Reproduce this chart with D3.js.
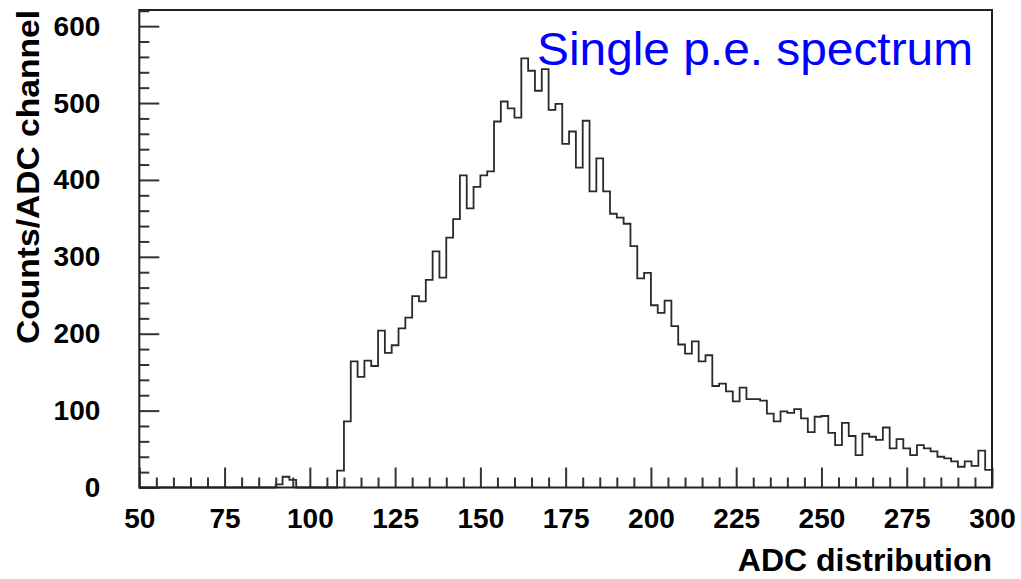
<!DOCTYPE html>
<html>
<head>
<meta charset="utf-8">
<script src="https://cdn.jsdelivr.net/npm/d3@7"></script>
<style>
  html, body { margin: 0; padding: 0; background: #fff; }
  svg { display: block; }
  .tick text { font-family: "Liberation Sans", Arial, Helvetica, sans-serif; font-weight: bold; }
</style>
</head>
<body>
<svg id="chart" width="1021" height="579"></svg>
<script>
// Single photo-electron spectrum: counts per 2-channel ADC bin, from 50 to 300
const binLow = 50, binHigh = 300, binWidth = 2;
const counts = [
  0, 0, 0, 0, 0, 0, 0, 0, 0, 0,          // 50 - 68
  0, 0, 0, 0, 0, 0, 0, 0, 0, 0,          // 70 - 88
  4, 14, 10, 0, 0, 0, 0, 0, 0,           // 90 - 106
  22, 86, 164, 144, 165, 158, 204, 175, 185, 207,   // 108 - 126
  221, 249, 242, 270, 307, 273, 325, 349, 406, 363, // 128 - 146
  391, 406, 411, 476, 502, 493, 481, 558, 542, 516, // 148 - 166
  544, 491, 499, 447, 463, 416, 477, 385, 428, 385, // 168 - 186
  356, 351, 343, 314, 272, 279, 237, 227, 243, 210, // 188 - 206
  186, 174, 190, 164, 172, 132, 135, 125, 112, 130, // 208 - 226
  115, 115, 113, 96, 86, 99, 97, 102, 90, 72,       // 228 - 246
  92, 93, 71, 55, 84, 67, 42, 70, 66, 62,           // 248 - 266
  78, 51, 63, 51, 42, 55, 51, 47, 40, 38,           // 268 - 286
  34, 27, 34, 28, 48, 23                            // 288 - 298
];
const xMajorTicks = [50, 75, 100, 125, 150, 175, 200, 225, 250, 275, 300];
const yMajorTicks = [0, 100, 200, 300, 400, 500, 600];
const xTitle = "ADC distribution";
const yTitle = "Counts/ADC channel";
const plotLabel = "Single p.e. spectrum";

const font = '"Liberation Sans", Arial, Helvetica, sans-serif';
const svg = d3.select("#chart");
const frame = { left: 139.3, right: 992, top: 10, bottom: 487.5 };
const yMax = 621;

const x = d3.scaleLinear().domain([binLow, binHigh]).range([frame.left, frame.right]);
const y = d3.scaleLinear().domain([0, yMax]).range([frame.bottom, frame.top]);

const xMinorTicks = d3.range(binLow, binHigh + 1, 5).filter(v => !xMajorTicks.includes(v));
const yMinorTicks = d3.range(0, yMax, 20).filter(v => !yMajorTicks.includes(v));

svg.append("rect").attr("width", 1021).attr("height", 579).attr("fill", "#fff");

// Histogram outline as a step line
const bins = counts.map((c, i) => ({ x0: binLow + i * binWidth, x1: binLow + (i + 1) * binWidth, c }));
const pts = [];
bins.forEach(b => { pts.push([b.x0, b.c]); pts.push([b.x1, b.c]); });
const line = d3.line().x(d => x(d[0])).y(d => y(d[1]));
svg.append("path")
  .attr("d", line(pts))
  .attr("fill", "none")
  .attr("stroke", "#2a2a2a")
  .attr("stroke-width", 1.8)
  .attr("stroke-linejoin", "miter");

// Axes: ticks point into the frame
function styleAxis(g) {
  g.select(".domain").remove();
  g.selectAll(".tick line").attr("stroke", "#333").attr("stroke-width", 2);
}

svg.append("g")
  .attr("transform", `translate(0,${frame.bottom})`)
  .call(d3.axisBottom(x).tickValues(xMinorTicks).tickSize(-10).tickFormat(""))
  .call(styleAxis);

svg.append("g")
  .attr("transform", `translate(0,${frame.bottom})`)
  .call(d3.axisBottom(x).tickValues(xMajorTicks).tickSize(-20).tickPadding(21).tickFormat(d3.format("d")))
  .call(styleAxis)
  .call(g => g.selectAll("text").attr("font-size", 28).attr("fill", "#000"));

svg.append("g")
  .attr("transform", `translate(${frame.left},0)`)
  .call(d3.axisLeft(y).tickValues(yMinorTicks).tickSize(-10).tickFormat(""))
  .call(styleAxis);

svg.append("g")
  .attr("transform", `translate(${frame.left},0)`)
  .call(d3.axisLeft(y).tickValues(yMajorTicks).tickSize(-20).tickPadding(39).tickFormat(d3.format("d")))
  .call(styleAxis)
  .call(g => g.selectAll("text").attr("font-size", 28).attr("fill", "#000"));

// Frame
svg.append("rect")
  .attr("x", frame.left).attr("y", frame.top)
  .attr("width", frame.right - frame.left).attr("height", frame.bottom - frame.top)
  .attr("fill", "none").attr("stroke", "#222").attr("stroke-width", 2);

// Axis titles, right/top aligned as in ROOT
svg.append("text")
  .attr("x", frame.right).attr("y", 571)
  .attr("text-anchor", "end")
  .attr("font-family", font).attr("font-weight", "bold").attr("font-size", 32)
  .text(xTitle);

svg.append("text")
  .attr("transform", `translate(39,${frame.top}) rotate(-90)`)
  .attr("text-anchor", "end")
  .attr("font-family", font).attr("font-weight", "bold").attr("font-size", 32)
  .attr("textLength", 334).attr("lengthAdjust", "spacingAndGlyphs")
  .text(yTitle);

// Plot label
svg.append("text")
  .attr("x", 537).attr("y", 65)
  .attr("font-family", font).attr("font-size", 46)
  .attr("textLength", 436).attr("lengthAdjust", "spacingAndGlyphs")
  .attr("fill", "#0000ff")
  .text(plotLabel);
</script>
</body>
</html>
